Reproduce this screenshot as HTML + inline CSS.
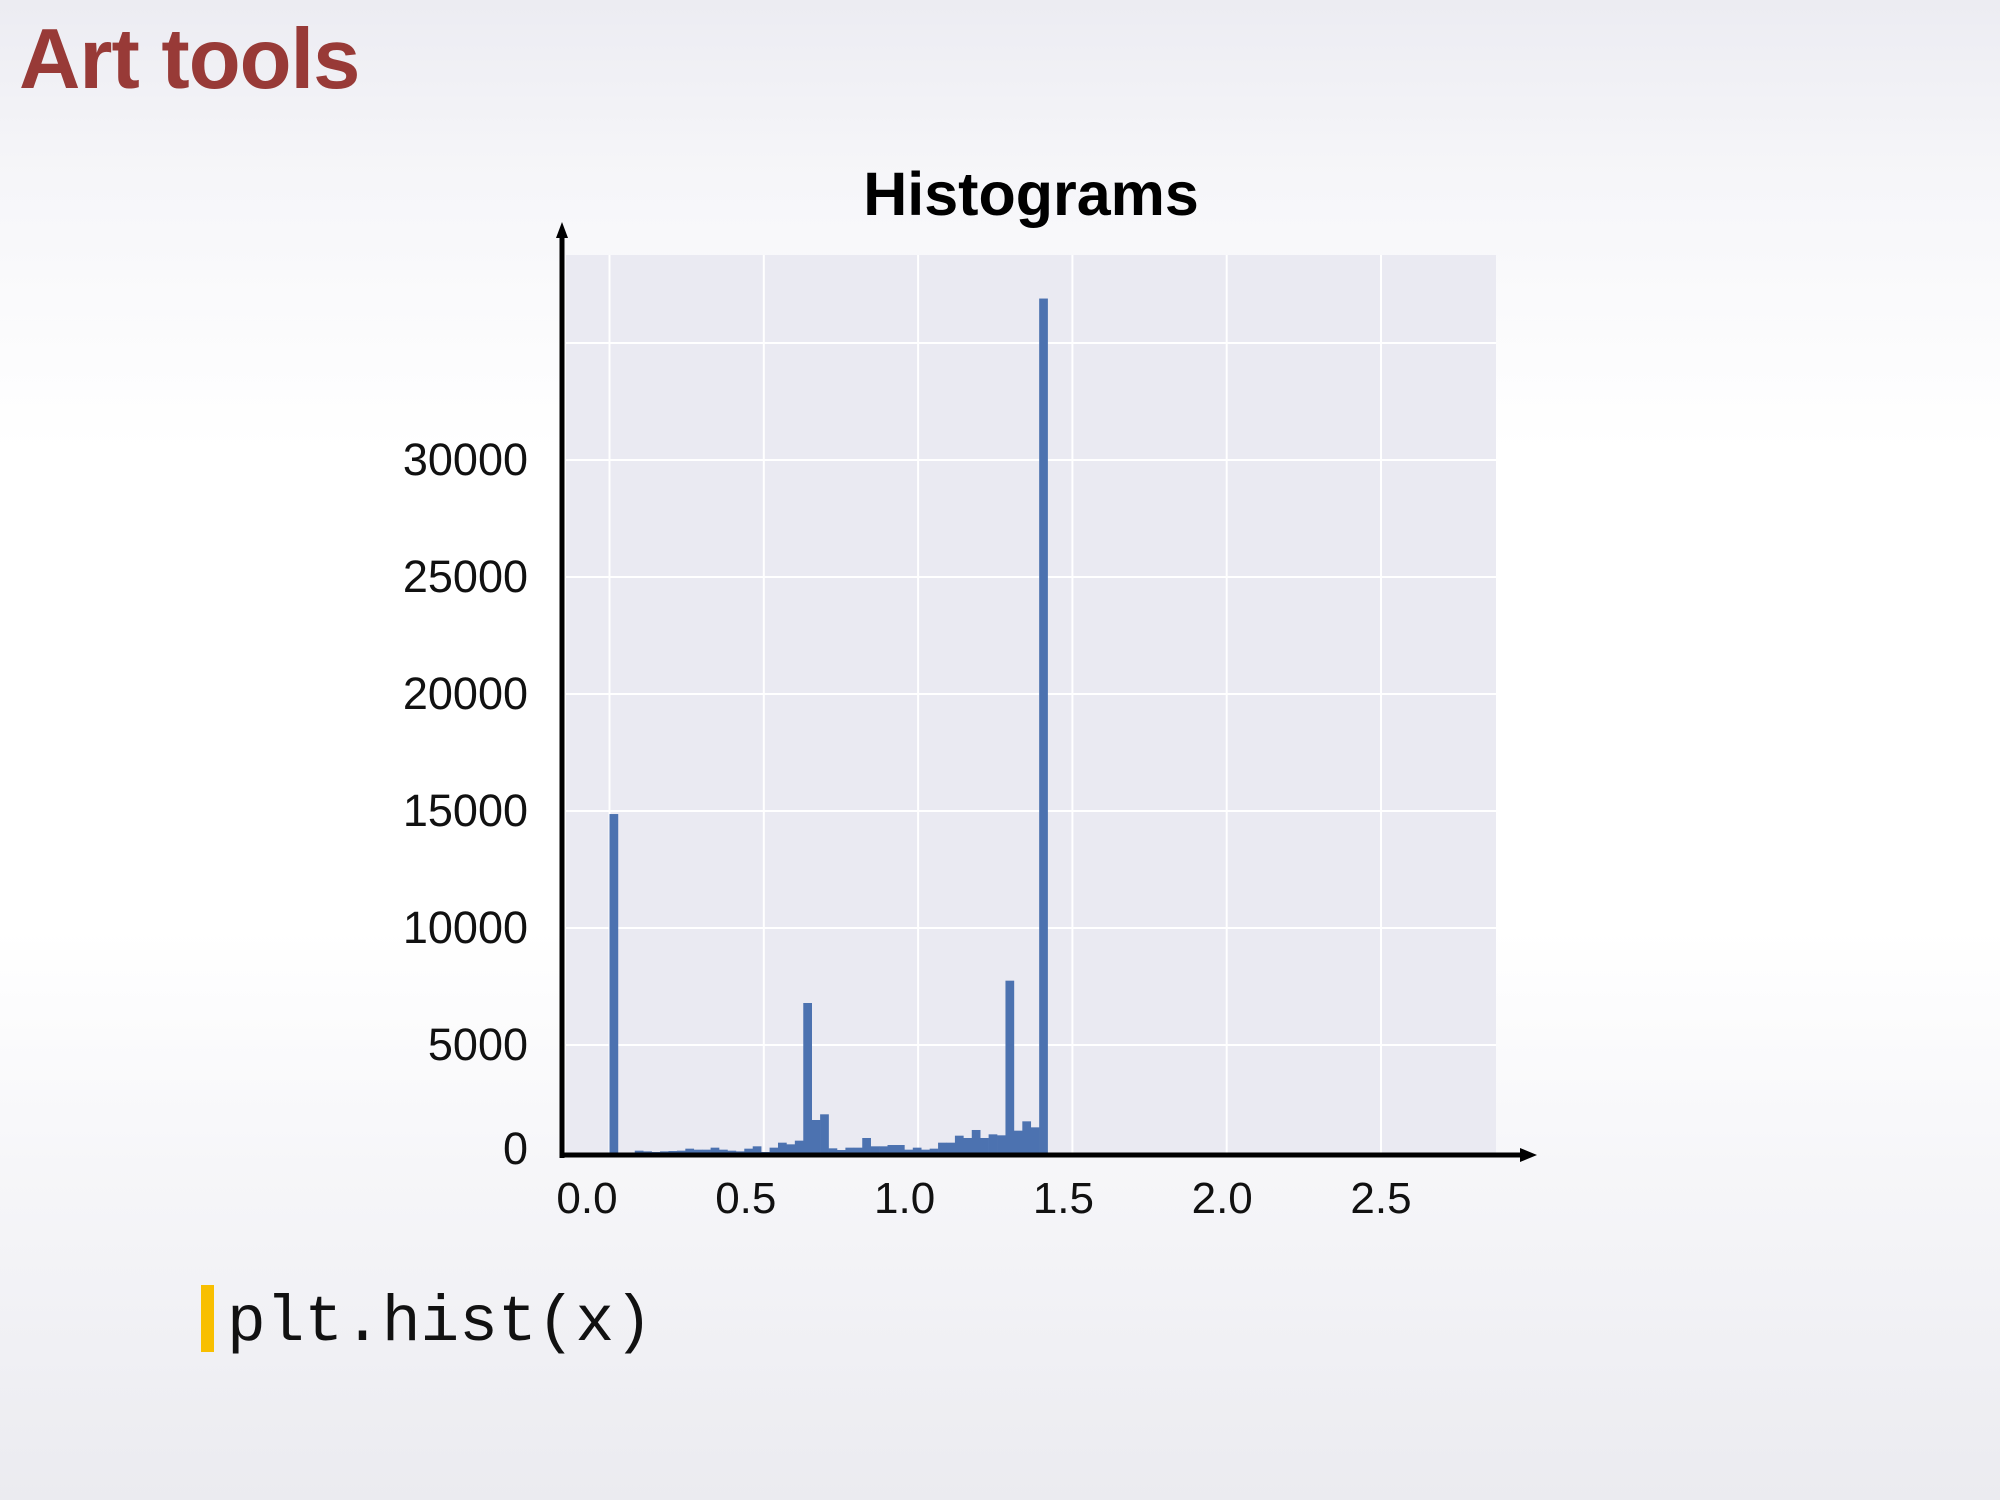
<!DOCTYPE html>
<html><head><meta charset="utf-8">
<style>
html,body{margin:0;padding:0}
body{width:2000px;height:1500px;overflow:hidden;position:relative;
background:linear-gradient(180deg,#ececf2 0%,#f6f6f9 12%,#ffffff 30%,#ffffff 62%,#f5f5f8 80%,#ebebf0 100%);
font-family:"Liberation Sans",sans-serif}
#slide-title{position:absolute;left:19px;top:10px;font-size:85px;font-weight:bold;color:#983a37;letter-spacing:-1px;line-height:100px;margin:0}
#code-bar{position:absolute;left:201px;top:1285px;width:13px;height:67px;background:#f8bf00}
#code{position:absolute;left:227px;top:1286px;font-family:"Liberation Mono",monospace;font-size:64.5px;color:#111;line-height:75px}
svg{position:absolute;left:0;top:0}
</style></head><body>
<h1 id="slide-title">Art tools</h1>
<div id="code-bar"></div>
<div id="code">plt.hist(x)</div>
<svg id="chart" width="2000" height="1500"></svg>
<script>
const yTicks = [0, 5000, 10000, 15000, 20000, 25000, 30000];
const yGridVals = [5000, 10000, 15000, 20000, 25000, 30000, 35000];
const xTicks = [0.0, 0.5, 1.0, 1.5, 2.0, 2.5];
const xTickLabels = ["0.0", "0.5", "1.0", "1.5", "2.0", "2.5"];
const binStart = 0.0;
const binWidth = 0.0273;
const counts = [14870, 0, 0, 484, 455, 400, 455, 470, 484, 570, 527, 527, 613, 527, 484, 455, 570, 670, 300, 613, 826, 755, 912, 6795, 1795, 2038, 584, 513, 613, 613, 1026, 670, 670, 726, 726, 527, 613, 527, 570, 826, 826, 1125, 1026, 1368, 1026, 1182, 1140, 7749, 1339, 1738, 1481, 36900];

const NS = "http://www.w3.org/2000/svg";
const svg = document.getElementById('chart');
function xs(v){ return 609.5 + v * 308.6; }
function xl(v){ return 587 + v * 317.6; }
function ys(v){ return 1162 - v * 0.0234; }
function mk(tag, attrs){ const e = document.createElementNS(NS, tag); for (const k in attrs) e.setAttribute(k, attrs[k]); svg.appendChild(e); return e; }

const bg = mk('rect', {x:566, y:255, width:930, height:900, fill:'#eaeaf2'});



yGridVals.forEach(v => {
  const g = mk('line', {x1:566, x2:1496, y1:ys(v), y2:ys(v), stroke:'#ffffff', 'stroke-width':2});
  
  
});
xTicks.forEach(v => {
  const g = mk('line', {x1:xs(v), x2:xs(v), y1:255, y2:1155, stroke:'#ffffff', 'stroke-width':2});
  
  
});

counts.forEach((c, i) => {
  if (c <= 0) return;
  const x0 = xs(binStart + i * binWidth), x1 = xs(binStart + (i + 1) * binWidth);
  const top = Math.min(ys(c), 1152);
  const r = mk('rect', {x:x0, y:top, width:x1 - x0 + 0.3, height:1154 - top, fill:'#4c72b0'});
  
  
});

const ya = mk('line', {x1:562, x2:562, y1:1158, y2:232, stroke:'#000', 'stroke-width':5});


const yar = mk('polygon', {points:'562,222 556,238 568,238', fill:'#000'});


const xa = mk('line', {x1:560, x2:1525, y1:1155, y2:1155, stroke:'#000', 'stroke-width':5});


const xar = mk('polygon', {points:'1537,1155 1520,1148 1520,1162', fill:'#000'});



yTicks.forEach(v => {
  const t = mk('text', {x:528, y:(v === 0 ? 1149 : ys(v)) + 15, 'text-anchor':'end', 'font-size':45, fill:'#111', 'font-family':'Liberation Sans, sans-serif'});
  t.textContent = String(v);
  
  
});
xTicks.forEach((v, i) => {
  const t = mk('text', {x:xl(v), y:1213, 'text-anchor':'middle', 'font-size':44, fill:'#111', 'font-family':'Liberation Sans, sans-serif'});
  t.textContent = xTickLabels[i];
  
  
});

const title = mk('text', {x:1031, y:215, 'text-anchor':'middle', 'font-size':61, 'font-weight':'bold', fill:'#000', 'font-family':'Liberation Sans, sans-serif'});
title.textContent = 'Histograms';


</script>
</body></html>
